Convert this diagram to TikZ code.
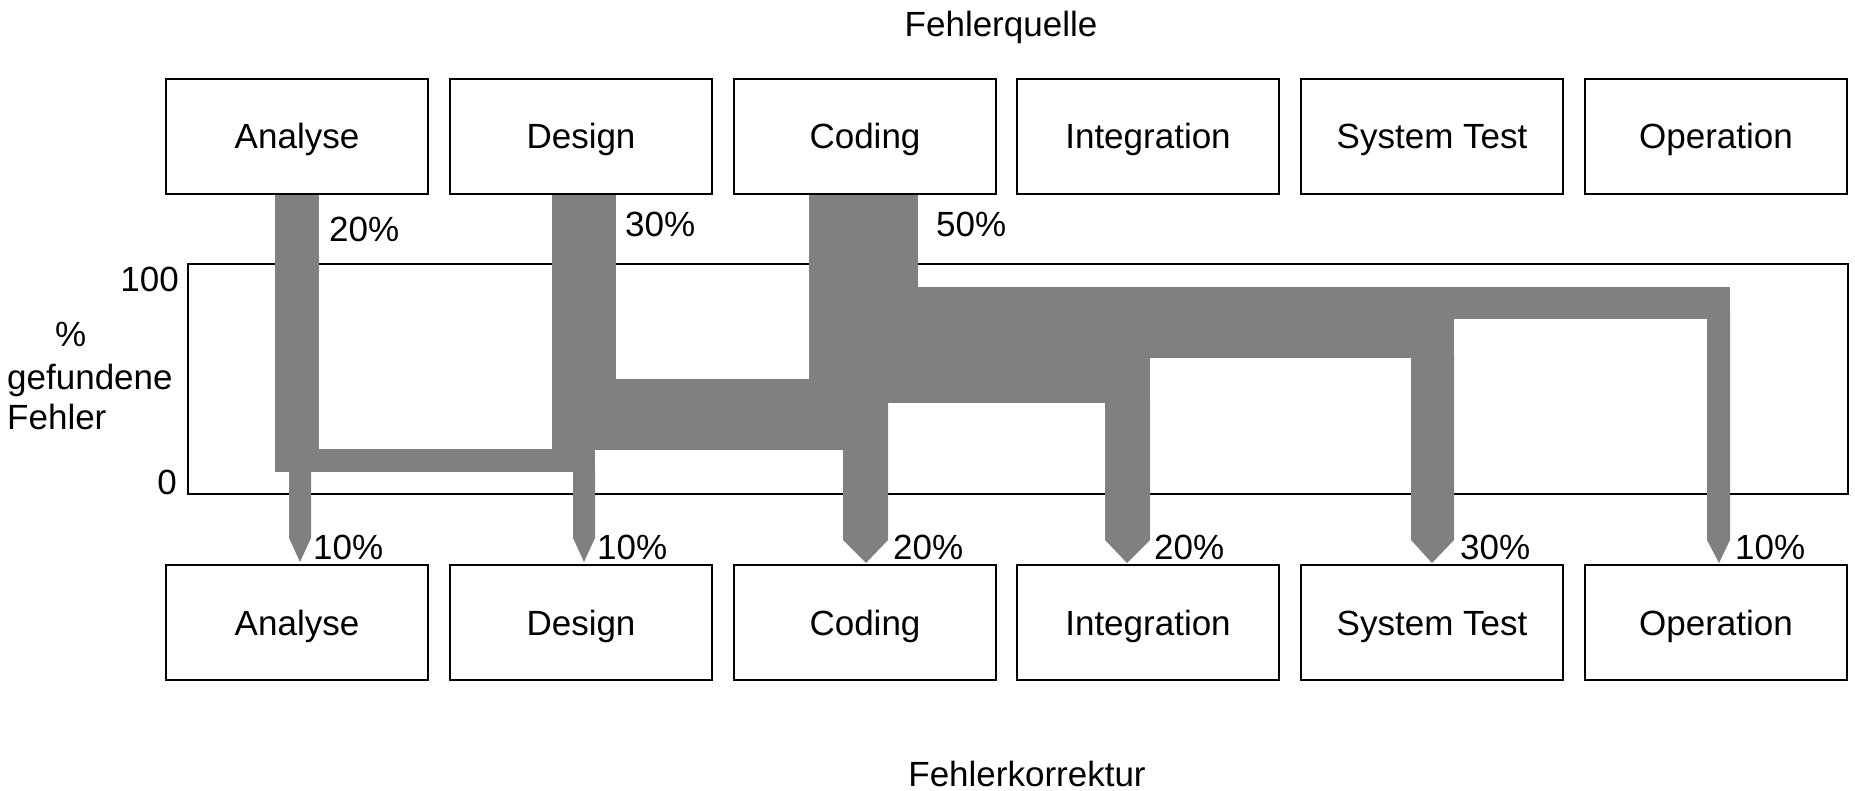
\documentclass[tikz,border=0pt]{standalone}
\usepackage{fontspec}
\setmainfont{Liberation Sans}
\definecolor{flowgray}{RGB}{128,128,128}
\begin{document}
\begin{tikzpicture}[x=1pt,y=-1pt,
  lbl/.style={font=\fontsize{35}{41}\selectfont, inner sep=0pt},
  phase/.style={draw, line width=1.4pt, minimum width=262pt, minimum height=115pt,
    text height=25pt, text depth=0pt, lbl},
  chartframe/.style={draw, line width=1.4pt, minimum width=1660pt, minimum height=230pt, inner sep=0pt},
  flow/.style={fill=flowgray}]
\useasboundingbox (0,0) rectangle (1855,791);

% headings
\node[lbl, anchor=base] (srctitle) at (1001,37) {Fehlerquelle};
\node[lbl, anchor=base] (dsttitle) at (1027,786) {Fehlerkorrektur};

% phases where errors are introduced
\node[phase] (src1) at (297,136.5) {Analyse};
\node[phase] (src2) at (581,136.5) {Design};
\node[phase] (src3) at (865,136.5) {Coding};
\node[phase] (src4) at (1148,136.5) {Integration};
\node[phase] (src5) at (1432,136.5) {System Test};
\node[phase] (src6) at (1716,136.5) {Operation};

% phases where errors are corrected
\node[phase] (dst1) at (297,622.5) {Analyse};
\node[phase] (dst2) at (581,622.5) {Design};
\node[phase] (dst3) at (865,622.5) {Coding};
\node[phase] (dst4) at (1148,622.5) {Integration};
\node[phase] (dst5) at (1432,622.5) {System Test};
\node[phase] (dst6) at (1716,622.5) {Operation};

% chart frame and axis labels
\node[chartframe] (chart) at (1018,379) {};
\node[lbl, anchor=base east] (ymax) at (179,292) {100};
\node[lbl, anchor=base east] (ymin) at (177,494) {0};
\node[lbl, anchor=base west] (yl1) at (55,347) {\%};
\node[lbl, anchor=base west] (yl2) at (7,389) {gefundene};
\node[lbl, anchor=base west] (yl3) at (7,429) {Fehler};

% Analyse: 20% in, 10% fixed in place, 10% passed on to Design
\fill[flow] (275,195) rectangle (319,472);
\fill[flow] (275,449) rectangle (595,472);
\fill[flow] (289,470) -- (311,470) -- (311,538) -- (300,562) -- (289,538) -- cycle;

% Design: 30% in, 10% fixed, the rest passed on
\fill[flow] (552,195) rectangle (616,450);
\fill[flow] (552,379) rectangle (843,450);
\fill[flow] (573,470) -- (595,470) -- (595,538) -- (584,562) -- (573,538) -- cycle;

% Coding: 50% in, joined with the stream from Design
\fill[flow] (809,195) rectangle (918,403);
\fill[flow] (809,287) rectangle (1150,403);
\fill[flow] (1150,287) rectangle (1454,358);
\fill[flow] (1454,287) rectangle (1730,319);

% branches down to the correcting phases
\fill[flow] (843,400) -- (888,400) -- (888,540) -- (866,563) -- (843,540) -- cycle;
\fill[flow] (1105,400) -- (1150,400) -- (1150,540) -- (1127,563) -- (1105,540) -- cycle;
\fill[flow] (1411,355) -- (1454,355) -- (1454,540) -- (1432,563) -- (1411,540) -- cycle;
\fill[flow] (1707,315) -- (1730,315) -- (1730,540) -- (1719,563) -- (1707,540) -- cycle;

% shares introduced
\node[lbl, anchor=base west] (p1) at (329,242) {20\%};
\node[lbl, anchor=base west] (p2) at (625,237) {30\%};
\node[lbl, anchor=base west] (p3) at (936,237) {50\%};

% shares corrected
\node[lbl, anchor=base west] (q1) at (313,559) {10\%};
\node[lbl, anchor=base west] (q2) at (597,559) {10\%};
\node[lbl, anchor=base west] (q3) at (893,559) {20\%};
\node[lbl, anchor=base west] (q4) at (1154,559) {20\%};
\node[lbl, anchor=base west] (q5) at (1460,559) {30\%};
\node[lbl, anchor=base west] (q6) at (1735,559) {10\%};
\end{tikzpicture}
\end{document}
